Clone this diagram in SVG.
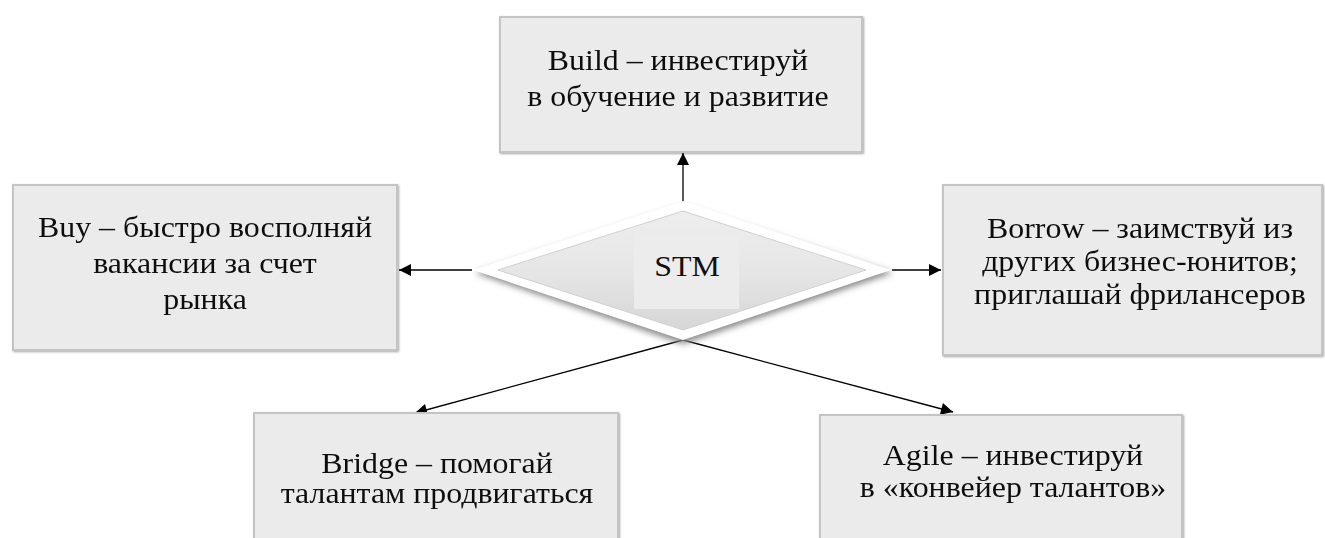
<svg xmlns="http://www.w3.org/2000/svg" width="1325" height="538" viewBox="0 0 1325 538">
  <style>
    .box { fill: #ebebeb; stroke: #c4c4c4; stroke-width: 2; }
    .lbl { font-family: "Liberation Serif", "Times New Roman", serif; font-size: 29px; fill: #111; text-anchor: middle; }
    .conn { stroke: #000; stroke-width: 1.3; fill: none; marker-end: url(#arrow); }
  </style>
  <defs>
    <marker id="arrow" viewBox="0 0 10 10" refX="10" refY="5" markerWidth="14" markerHeight="12" markerUnits="userSpaceOnUse" orient="auto">
      <path d="M0,0 L10,5 L0,10 Z" fill="#000"/>
    </marker>
    <filter id="boxShadow" x="-5%" y="-5%" width="110%" height="110%">
      <feGaussianBlur in="SourceAlpha" stdDeviation="1"/>
      <feOffset dx="1" dy="1"/>
      <feComponentTransfer><feFuncA type="linear" slope="0.35"/></feComponentTransfer>
      <feMerge><feMergeNode/><feMergeNode in="SourceGraphic"/></feMerge>
    </filter>
    <filter id="soft" x="-10%" y="-20%" width="120%" height="140%">
      <feGaussianBlur stdDeviation="3"/>
    </filter>
    <linearGradient id="diamondFill" x1="0" y1="0" x2="0" y2="1">
      <stop offset="0" stop-color="#eeeeee"/>
      <stop offset="0.5" stop-color="#e6e6e6"/>
      <stop offset="1" stop-color="#d6d6d6"/>
    </linearGradient>
  </defs>

  <!-- connectors -->
  <g id="connectors">
    <line class="conn" x1="683" y1="202" x2="683" y2="153"/>
    <line class="conn" x1="472" y1="270" x2="399" y2="270"/>
    <line class="conn" x1="892" y1="270" x2="941" y2="270"/>
    <line class="conn" x1="683" y1="340" x2="415" y2="413"/>
    <line class="conn" x1="683" y1="340" x2="953" y2="412"/>
  </g>

  <!-- Build -->
  <g id="build" filter="url(#boxShadow)">
    <rect class="box" x="500" y="17" width="362" height="135"/>
    <g class="lbl" transform="translate(678,0) scale(1.1,1)">
      <text class="lbl" font-family="Liberation Serif, serif" x="0" y="70">Build – инвестируй</text>
      <text class="lbl" font-family="Liberation Serif, serif" x="0" y="106">в обучение и развитие</text>
    </g>
  </g>

  <!-- Buy -->
  <g id="buy" filter="url(#boxShadow)">
    <rect class="box" x="13" y="185" width="384" height="165"/>
    <g transform="translate(205,0) scale(1.1,1)">
      <text class="lbl" font-family="Liberation Serif, serif" x="0" y="237">Buy – быстро восполняй</text>
      <text class="lbl" font-family="Liberation Serif, serif" x="0" y="273">вакансии за счет</text>
      <text class="lbl" font-family="Liberation Serif, serif" x="0" y="309">рынка</text>
    </g>
  </g>

  <!-- Borrow -->
  <g id="borrow" filter="url(#boxShadow)">
    <rect class="box" x="943" y="185" width="379" height="170"/>
    <g transform="translate(1140,0) scale(1.1,1)">
      <text class="lbl" font-family="Liberation Serif, serif" x="0" y="238">Borrow – заимствуй из</text>
      <text class="lbl" font-family="Liberation Serif, serif" x="0" y="271">других бизнес-юнитов;</text>
      <text class="lbl" font-family="Liberation Serif, serif" x="0" y="304">приглашай фрилансеров</text>
    </g>
  </g>

  <!-- Bridge -->
  <g id="bridge" filter="url(#boxShadow)">
    <rect class="box" x="254" y="413" width="364" height="140"/>
    <g transform="translate(437,0) scale(1.1,1)">
      <text class="lbl" font-family="Liberation Serif, serif" x="0" y="473">Bridge – помогай</text>
      <text class="lbl" font-family="Liberation Serif, serif" x="0" y="503">талантам продвигаться</text>
    </g>
  </g>

  <!-- Agile -->
  <g id="agile" filter="url(#boxShadow)">
    <rect class="box" x="820" y="415" width="362" height="140"/>
    <g transform="translate(1013,0) scale(1.1,1)">
      <text class="lbl" font-family="Liberation Serif, serif" x="0" y="465">Agile – инвестируй</text>
      <text class="lbl" font-family="Liberation Serif, serif" x="0" y="497">в «конвейер талантов»</text>
    </g>
  </g>

  <!-- STM decision diamond -->
  <g id="stm">
    <polygon points="683,206 893,273 683,344 475,273" fill="#8a8a8a" filter="url(#soft)"/>
    <polygon points="683,201 891,270 683,340 473,270" fill="#ffffff"/>
    <polygon points="683,211 866,270 683,330 498,270" fill="url(#diamondFill)" stroke="#d0d0d0" stroke-width="1"/>
    <rect x="634" y="234" width="105" height="75" fill="#ececec"/>
    <g transform="translate(687,0) scale(1.1,1)">
      <text class="lbl" font-family="Liberation Serif, serif" x="0" y="276">STM</text>
    </g>
  </g>
</svg>
